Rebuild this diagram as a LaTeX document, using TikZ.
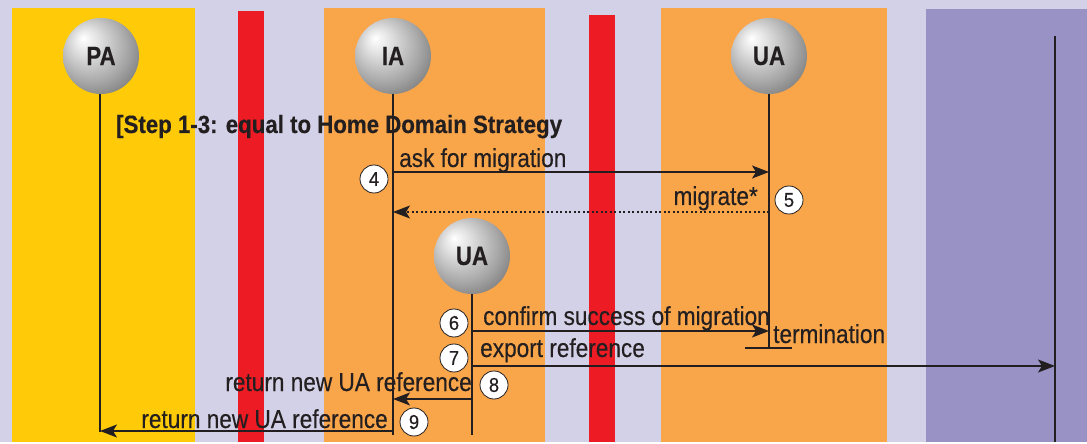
\documentclass[tikz,border=0pt]{standalone}
\usepackage{fontspec}
\setmainfont{Liberation Sans}
\newfontfamily\labfont[FakeStretch=0.87,FakeBold=0.3]{Liberation Sans}
\newfontfamily\headfont[FakeStretch=0.89,FakeBold=0.4]{Liberation Sans}
\newfontfamily\agentfont[FakeStretch=0.84,FakeBold=0.3]{Liberation Sans}
\newfontfamily\numfont[FakeStretch=0.92,FakeBold=0.3]{Liberation Sans}
\usetikzlibrary{arrows.meta}

\definecolor{bg}{HTML}{D3D1E7}
\definecolor{sunY}{HTML}{FFCB08}
\definecolor{orng}{HTML}{F9A54A}
\definecolor{redbar}{HTML}{ED1C24}
\definecolor{lilac}{HTML}{9992C5}
\definecolor{ink}{HTML}{231F20}

% grey sphere with a highlight towards the upper left
\pgfdeclareradialshading{sphere}{\pgfpoint{-12bp}{12bp}}{%
  color(0bp)=(white);
  color(8bp)=(gray!22);
  color(24bp)=(gray!70);
  color(44bp)=(gray!62!black);
  color(50bp)=(black!66)}

\tikzset{
  agent/.style={circle, minimum size=76pt, inner sep=0pt, shading=sphere,
    text=ink, font=\agentfont\bfseries\fontsize{26.5}{26.5}\selectfont},
  lifeline/.style={draw=ink, line width=2.4pt},
  msg/.style={draw=ink, line width=1.3pt,
    -{Stealth[length=17pt,width=13pt,inset=4pt]}},
  reply/.style={msg, line width=1.1pt, dash pattern=on 2pt off 2.5pt},
  lbl/.style={anchor=base west, inner sep=0pt, text=ink,
    font=\labfont\fontsize{26}{26}\selectfont},
  lblr/.style={lbl, anchor=base east},
  num/.style={circle, draw=ink, fill=white, line width=0.8pt,
    minimum size=28pt, inner sep=0pt, text=ink,
    font=\numfont\fontsize{20}{20}\selectfont},
}

\begin{document}
\begin{tikzpicture}[x=1pt,y=-1pt]
  % background and domain bands
  \fill[bg] (0,0) rectangle (1087,442);
  \fill[sunY] (12,8) rectangle (195,442);
  \fill[redbar] (238,11) rectangle (264,442);
  \fill[orng] (324,8) rectangle (545,442);
  \fill[redbar] (589,15) rectangle (615,442);
  \fill[orng] (661,8) rectangle (887,442);
  \fill[lilac] (926,9) rectangle (1087,442);

  % lifeline ends
  \coordinate (PAend) at (100,432);
  \coordinate (IAend) at (393,435);
  \coordinate (UAend) at (769,348);
  \coordinate (UBend) at (472,435);
  \coordinate (EXtop) at (1055,36);
  \coordinate (EXend) at (1055,442);

  % lifelines
  \draw[lifeline] (100,94) -- (PAend);
  \draw[lifeline] (393,94) -- (IAend);
  \draw[lifeline] (769,94) -- (UAend);
  \draw[lifeline] (472,294) -- (UBend);
  \draw[lifeline] (EXtop) -- (EXend);

  % agents
  \node[agent] (PA) at (101,56) {PA};
  \node[agent] (IA) at (393,56) {IA};
  \node[agent] (UA) at (769,56) {UA};
  \node[agent] (UB) at (472,256) {UA};

  % heading
  \node[anchor=base west, inner sep=0pt, text=ink,
    font=\headfont\bfseries\fontsize{25}{25}\selectfont] (head) at (116,133)
    {[Step 1-3: equal to Home Domain Strategy};

  % message end points on the lifelines
  \coordinate (ia4) at (393,172);  \coordinate (ua4) at (769,172);
  \coordinate (ua5) at (769,212);  \coordinate (ia5) at (393,212);
  \coordinate (ub6) at (472,331);  \coordinate (ua6) at (769,331);
  \coordinate (ub7) at (472,366);  \coordinate (ex7) at (1055,366);
  \coordinate (ub8) at (472,399);  \coordinate (ia8) at (393,399);
  \coordinate (ia9) at (393,431);  \coordinate (pa9) at (100,431);

  % termination bar
  \coordinate (tl) at (745,348);
  \coordinate (tr) at (792,348);
  \draw[ink, line width=2pt] (tl) -- (tr);

  % messages
  \draw[msg] (ia4) -- (ua4);
  \draw[reply] (ua5) -- (ia5);
  \draw[msg] (ub6) -- (ua6);
  \draw[msg] (ub7) -- (ex7);
  \draw[msg] (ub8) -- (ia8);
  \draw[msg] (ia9) -- (pa9);

  % message labels
  \node[lbl] (l4) at (399,167) {ask for migration};
  \node[lblr] (l5) at (758,205) {migrate*};
  \node[lbl] (l6) at (483,325) {confirm success of migration};
  \node[lbl] (lt) at (773,343) {termination};
  \node[lbl] (l7) at (480,357) {export reference};
  \node[lblr] (l8) at (472,391) {return new UA reference};
  \node[lblr] (l9) at (388,428) {return new UA reference};

  % step numbers
  \node[num] (n4) at (374,179) {4};
  \node[num] (n5) at (789,200) {5};
  \node[num] (n6) at (454,323) {6};
  \node[num] (n7) at (454,358) {7};
  \node[num] (n8) at (494,385) {8};
  \node[num] (n9) at (414,422) {9};
\end{tikzpicture}
\end{document}
